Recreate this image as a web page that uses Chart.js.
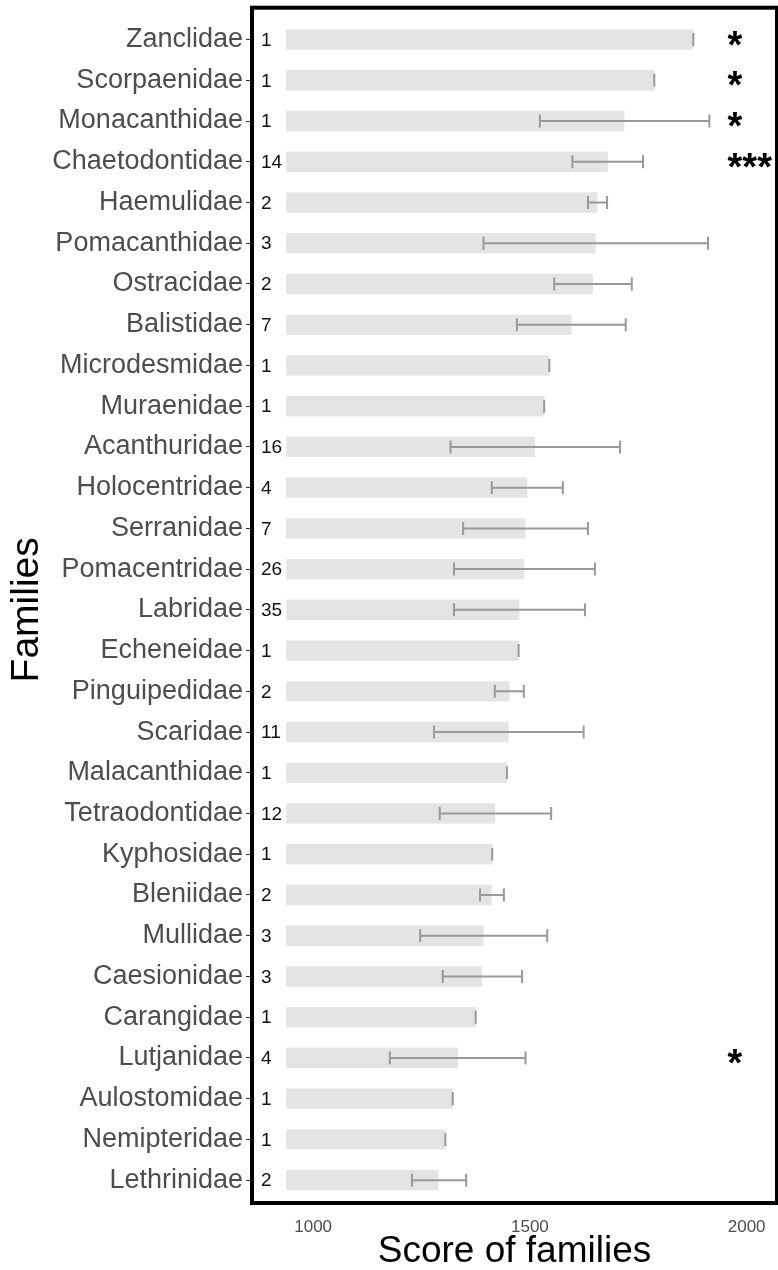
<!DOCTYPE html>
<html>
<head>
<meta charset="utf-8">
<script src="https://cdn.jsdelivr.net/npm/chart.js@4"></script>
<style>
  html, body { margin: 0; padding: 0; background: #fff; }
  #wrap { width: 778px; height: 1270px; }
</style>
</head>
<body>
<div id="wrap"><canvas id="chart" width="778" height="1270"></canvas></div>
<script>
const families = ['Zanclidae', 'Scorpaenidae', 'Monacanthidae', 'Chaetodontidae', 'Haemulidae',
    'Pomacanthidae', 'Ostracidae', 'Balistidae', 'Microdesmidae', 'Muraenidae', 'Acanthuridae',
    'Holocentridae', 'Serranidae', 'Pomacentridae', 'Labridae', 'Echeneidae', 'Pinguipedidae',
    'Scaridae', 'Malacanthidae', 'Tetraodontidae', 'Kyphosidae', 'Bleniidae', 'Mullidae',
    'Caesionidae', 'Carangidae', 'Lutjanidae', 'Aulostomidae', 'Nemipteridae', 'Lethrinidae'];
const counts = [1, 1, 1, 14, 2, 3, 2, 7, 1, 1, 16, 4, 7, 26, 35, 1, 2, 11, 1, 12, 1, 2, 3, 3, 1, 4, 1, 1, 2];
const scores = [1877, 1787, 1718, 1680, 1656, 1652, 1646, 1596, 1545, 1533, 1512, 1494, 1490, 1487,
    1476, 1474, 1453, 1451, 1447, 1420, 1413, 1412, 1393, 1390, 1375, 1334, 1322, 1305, 1289];
const errLow = [1877, 1787, 1523, 1598, 1634, 1393, 1556, 1470, 1545, 1533, 1317, 1412, 1346, 1325,
    1325, 1474, 1419, 1279, 1447, 1292, 1413, 1385, 1247, 1299, 1375, 1177, 1322, 1305, 1228];
const errHigh = [1877, 1787, 1914, 1761, 1678, 1911, 1735, 1721, 1545, 1533, 1708, 1576, 1634, 1650,
    1627, 1474, 1486, 1624, 1447, 1549, 1413, 1440, 1540, 1482, 1375, 1490, 1322, 1305, 1353];
const stars = ['*', '*', '*', '***', '', '', '', '', '', '', '', '', '', '', '', '', '', '', '', '',
    '', '', '', '', '', '*', '', '', ''];
const xTicks = [1000, 1500, 2000];
const BAR_START = 938;
const STAR_X = 1956;

const FONT = "'Liberation Sans', Arial, Helvetica, sans-serif";

// panel frame, error bars, sample sizes and significance stars
const extras = {
    id: 'extras',
    afterDatasetsDraw(chart) {
        const { ctx, chartArea: a, scales: { x, y } } = chart;
        ctx.save();

        ctx.strokeStyle = '#999999';
        ctx.lineWidth = 2;
        families.forEach((f, i) => {
            const py = y.getPixelForValue(i);
            const x1 = x.getPixelForValue(errLow[i]);
            const x2 = x.getPixelForValue(errHigh[i]);
            ctx.beginPath();
            ctx.moveTo(x1, py); ctx.lineTo(x2, py);
            ctx.moveTo(x1, py - 6.5); ctx.lineTo(x1, py + 6.5);
            ctx.moveTo(x2, py - 6.5); ctx.lineTo(x2, py + 6.5);
            ctx.stroke();
        });

        ctx.fillStyle = '#111';
        ctx.font = '19px ' + FONT;
        ctx.textAlign = 'left';
        ctx.textBaseline = 'middle';
        counts.forEach((n, i) => {
            ctx.fillText(String(n), a.left + 9, y.getPixelForValue(i) + 1);
        });

        ctx.fillStyle = '#000';
        ctx.font = 'bold 38px ' + FONT;
        ctx.textBaseline = 'alphabetic';
        stars.forEach((s, i) => {
            if (!s) return;
            ctx.fillText(s, x.getPixelForValue(STAR_X), y.getPixelForValue(i) + 18);
        });

        ctx.strokeStyle = '#000';
        ctx.lineWidth = 4;
        ctx.strokeRect(a.left, a.top - 11.5, a.right - a.left, a.bottom - a.top + 14);
        ctx.restore();
    }
};

new Chart(document.getElementById('chart'), {
    type: 'bar',
    data: {
        labels: families,
        datasets: [{
            data: scores.map(v => [BAR_START, v]),
            backgroundColor: '#e4e4e4',
            borderWidth: 0,
            barPercentage: 0.5,
            categoryPercentage: 1
        }]
    },
    options: {
        indexAxis: 'y',
        responsive: false,
        animation: false,
        devicePixelRatio: 1,
        layout: { padding: { top: 18.5, right: 1, left: 0, bottom: 0 } },
        plugins: { legend: { display: false }, tooltip: { enabled: false } },
        scales: {
            x: {
                min: 859,
                max: 2070,
                afterBuildTicks: s => { s.ticks = xTicks.map(v => ({ value: v })); },
                afterFit: s => { s.height = 69.5; },
                grid: { display: false },
                border: { display: false },
                ticks: {
                    color: '#4d4d4d',
                    font: { family: FONT, size: 17 },
                    padding: 9,
                    callback: v => String(v)
                },
                title: {
                    display: true,
                    text: 'Score of families',
                    color: '#000',
                    font: { family: FONT, size: 37, lineHeight: 1 },
                    padding: { top: 0, bottom: 0 }
                }
            },
            y: {
                afterFit: s => { s.width = 252; },
                grid: { drawOnChartArea: false, drawTicks: true, tickLength: 6, color: '#333', lineWidth: 1, offset: false },
                border: { display: false },
                ticks: { color: '#4d4d4d', font: { family: FONT, size: 27 }, padding: 3, autoSkip: false },
                title: {
                    display: true,
                    text: 'Families',
                    color: '#000',
                    font: { family: FONT, size: 39, lineHeight: 1.2 },
                    padding: { top: 4, bottom: 0 }
                }
            }
        }
    },
    plugins: [extras]
});
</script>
</body>
</html>
